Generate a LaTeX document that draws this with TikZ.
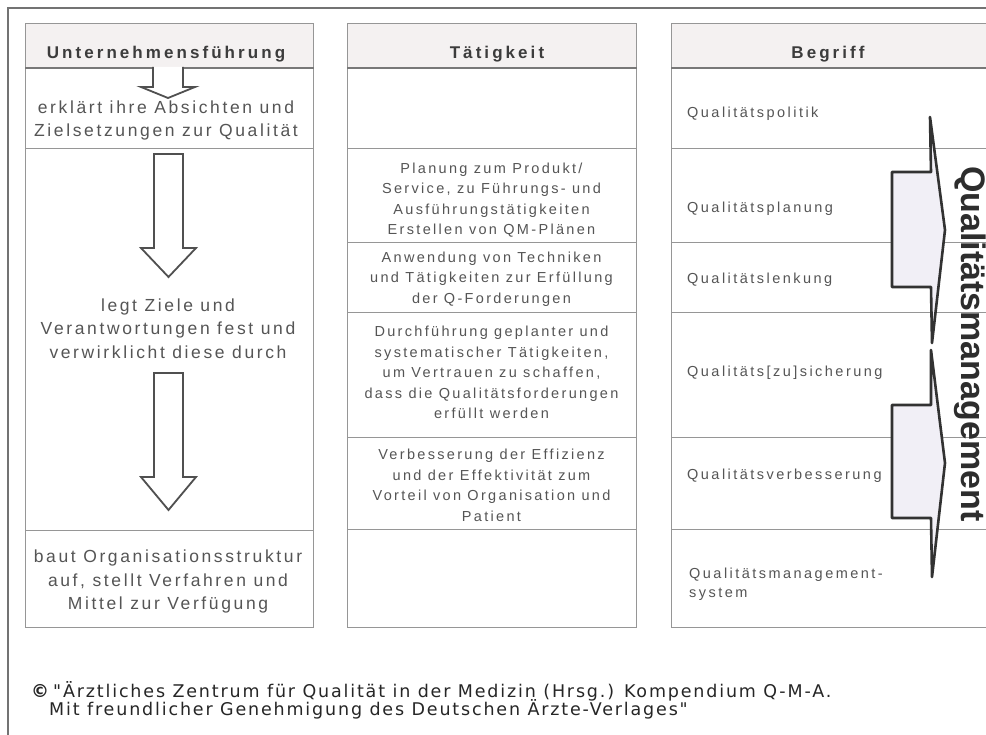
\documentclass[tikz,border=0pt]{standalone}
\usepackage{fontspec}
\setmainfont{Liberation Sans}
\newfontfamily\leftfont[LetterSpace=15]{Liberation Sans}
\newfontfamily\midfont[LetterSpace=16]{Liberation Sans}
\newfontfamily\termfont[LetterSpace=17]{Liberation Sans}
\newfontfamily\headfont[LetterSpace=18]{Liberation Sans}
\newfontfamily\notefont[LetterSpace=10.5]{DejaVu Sans}

\definecolor{framegray}{RGB}{115,115,115}
\definecolor{rulegray}{RGB}{150,150,150}
\definecolor{headrule}{RGB}{120,120,120}
\definecolor{headfill}{RGB}{244,241,241}
\definecolor{txtgray}{RGB}{85,85,85}
\definecolor{headtxt}{RGB}{60,60,60}
\definecolor{arrowgray}{RGB}{80,80,80}
\definecolor{chevline}{RGB}{50,50,50}
\definecolor{chevfill}{RGB}{241,239,246}
\definecolor{bigtxt}{RGB}{45,45,45}

\tikzset{
  cellbox/.style={draw=rulegray, line width=1pt, rectangle, inner sep=0pt, anchor=north west},
  headbox/.style={cellbox, fill=headfill},
  headtext/.style={inner sep=0pt, anchor=base, text=headtxt, font=\headfont\bfseries\fontsize{17}{20}\selectfont},
  lefttext/.style={inner sep=0pt, align=center, text=txtgray, font=\leftfont\fontsize{17.5}{23.5}\selectfont},
  midtext/.style={inner sep=0pt, align=center, text=txtgray, font=\midfont\fontsize{14.5}{20.5}\selectfont},
  termtext/.style={inner sep=0pt, anchor=west, align=left, text=txtgray, font=\termfont\fontsize{14.5}{18.5}\selectfont},
  blockarrow/.style={draw=arrowgray, line width=1.8pt, fill=white, line join=miter},
  chevron/.style={draw=chevline, line width=2.6pt, fill=chevfill, line join=round},
  notetext/.style={inner sep=0pt, anchor=base west, text=black!85, font=\notefont\fontsize{17.5}{20}\selectfont}
}

\begin{document}
\begin{tikzpicture}[x=1pt,y=-1pt]
  % page and outer frame
  \fill[white] (0,0) rectangle (986,735);
  \useasboundingbox (0,0) rectangle (986,735);
  \draw[framegray, line width=1.5pt] (8,735) -- (8,8) -- (990,8);

  % column 1: Unternehmensführung
  \node[cellbox, minimum width=288pt, minimum height=81pt]  (a1) at (25,67)  {};
  \node[cellbox, minimum width=288pt, minimum height=382pt] (a2) at (25,148) {};
  \node[cellbox, minimum width=288pt, minimum height=97pt]  (a3) at (25,530) {};
  \node[headbox, minimum width=288pt, minimum height=44pt]  (ah) at (25,23)  {};
  \draw[headrule, line width=2pt] (ah.south west) -- (ah.south east);

  % column 2: Tätigkeit
  \node[cellbox, minimum width=289pt, minimum height=81pt]  (b1) at (347,67)  {};
  \node[cellbox, minimum width=289pt, minimum height=94pt]  (b2) at (347,148) {};
  \node[cellbox, minimum width=289pt, minimum height=70pt]  (b3) at (347,242) {};
  \node[cellbox, minimum width=289pt, minimum height=125pt] (b4) at (347,312) {};
  \node[cellbox, minimum width=289pt, minimum height=92pt]  (b5) at (347,437) {};
  \node[cellbox, minimum width=289pt, minimum height=98pt]  (b6) at (347,529) {};
  \node[headbox, minimum width=289pt, minimum height=44pt]  (bh) at (347,23)  {};
  \draw[headrule, line width=2pt] (bh.south west) -- (bh.south east);

  % column 3: Begriff (runs past the right edge)
  \node[cellbox, minimum width=322pt, minimum height=81pt]  (c1) at (671,67)  {};
  \node[cellbox, minimum width=322pt, minimum height=94pt]  (c2) at (671,148) {};
  \node[cellbox, minimum width=322pt, minimum height=70pt]  (c3) at (671,242) {};
  \node[cellbox, minimum width=322pt, minimum height=125pt] (c4) at (671,312) {};
  \node[cellbox, minimum width=322pt, minimum height=92pt]  (c5) at (671,437) {};
  \node[cellbox, minimum width=322pt, minimum height=98pt]  (c6) at (671,529) {};
  \node[headbox, minimum width=322pt, minimum height=44pt]  (ch) at (671,23)  {};
  \draw[headrule, line width=2pt] (ch.south west) -- (ch.south east);

  % headers
  \node[headtext] (ht1) at (166,58.5)   {Unternehmensführung};
  \node[headtext] (ht2) at (497,58.5) {Tätigkeit};
  \node[headtext] (ht3) at (828,58.5)   {Begriff};

  % block arrows in column 1
  \draw[blockarrow] (153,67) -- (153,87) -- (141,87) -- (168,98) -- (195,87) -- (183,87) -- (183,67);
  \draw[blockarrow] (154,154) -- (183,154) -- (183,248) -- (196,248) -- (168.5,277) -- (141,248) -- (154,248) -- cycle;
  \draw[blockarrow] (154,373) -- (183,373) -- (183,477) -- (196,477) -- (168.5,510) -- (141,477) -- (154,477) -- cycle;

  % column 1 texts
  \node[lefttext] (ta1) at (166,120.5) {erklärt ihre Absichten und\\Zielsetzungen zur Qualität};
  \node[lefttext] (ta2) at (168,328.5) {legt Ziele und\\Verantwortungen fest und\\verwirklicht diese durch};
  \node[lefttext] (ta3) at (168,581.5) {baut Organisationsstruktur\\auf, stellt Verfahren und\\Mittel zur Verfügung};

  % column 2 texts
  \node[midtext] (tb2) at (491.5,200)   {Planung zum Produkt/\\Service, zu Führungs- und\\Ausführungstätigkeiten\\Erstellen von QM-Plänen};
  \node[midtext] (tb3) at (491.5,279)   {Anwendung von Techniken\\und Tätigkeiten zur Erfüllung\\der Q-Forderungen};
  \node[midtext] (tb4) at (491.5,372.5) {Durchführung geplanter und\\systematischer Tätigkeiten,\\um Vertrauen zu schaffen,\\dass die Qualitätsforderungen\\erfüllt werden};
  \node[midtext] (tb5) at (491.5,485.5) {Verbesserung der Effizienz\\und der Effektivität zum\\Vorteil von Organisation und\\Patient};

  % column 3 terms
  \node[termtext] (tc1) at (687,114) {Qualitätspolitik};
  \node[termtext] (tc2) at (687,209) {Qualitätsplanung};
  \node[termtext] (tc3) at (687,280) {Qualitätslenkung};
  \node[termtext] (tc4) at (687,373) {Qualitäts[zu]sicherung};
  \node[termtext] (tc5) at (687,476) {Qualitätsverbesserung};
  \node[termtext] (tc6) at (689,584) {Qualitätsmanagement-\\system};

  % bracket chevrons grouping the terms
  \draw[chevron] (930,117) -- (931,172) -- (892,172) -- (892,287) -- (931,287) -- (932,343) -- (945,230) -- cycle;
  \draw[chevron] (931,350) -- (931,405) -- (892,405) -- (892,518) -- (931,518) -- (932,577) -- (945,463) -- cycle;

  % vertical title
  \node[rotate=-90, anchor=base west, inner sep=0pt, text=bigtxt, font=\bfseries\fontsize{34}{34}\selectfont] (qm) at (961,166) {Qualitätsmanagement};

  % source note
  \node[notetext, font=\notefont\bfseries\fontsize{18}{20}\selectfont] (cpy) at (31,697) {©};
  \node[notetext] (src1) at (53,697) {"Ärztliches Zentrum für Qualität in der Medizin (Hrsg.) Kompendium Q-M-A.};
  \node[notetext] (src2) at (49,715) {Mit freundlicher Genehmigung des Deutschen Ärzte-Verlages"};
\end{tikzpicture}
\end{document}
